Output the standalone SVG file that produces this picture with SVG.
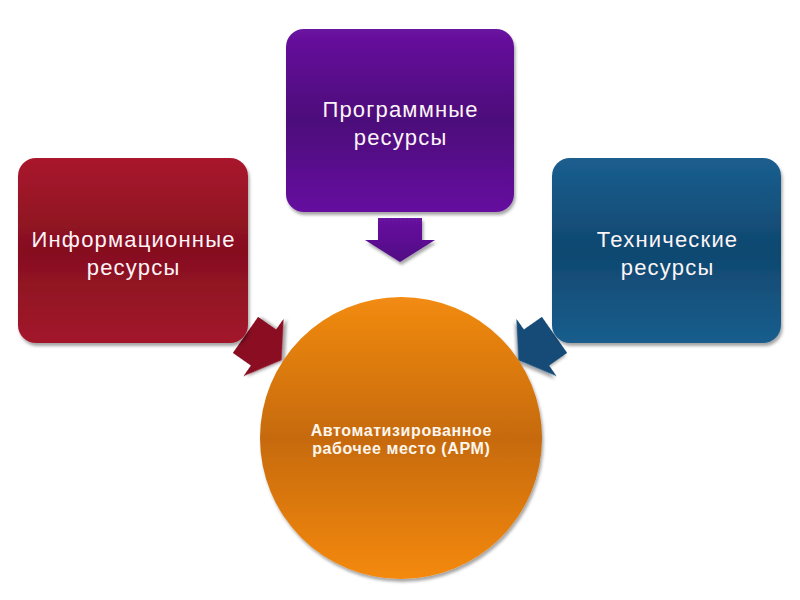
<svg xmlns="http://www.w3.org/2000/svg" width="800" height="600" viewBox="0 0 800 600">
  <defs>
    <linearGradient id="gRed" x1="0" y1="0" x2="0" y2="1">
      <stop offset="0" stop-color="#a9182d"/>
      <stop offset="0.5" stop-color="#86101f"/>
      <stop offset="1" stop-color="#a3162b"/>
    </linearGradient>
    <linearGradient id="gPurple" x1="0" y1="0" x2="0" y2="1">
      <stop offset="0" stop-color="#6912a0"/>
      <stop offset="0.5" stop-color="#4c0a7a"/>
      <stop offset="1" stop-color="#6611a0"/>
    </linearGradient>
    <linearGradient id="gBlue" x1="0" y1="0" x2="0" y2="1">
      <stop offset="0" stop-color="#1b5e8f"/>
      <stop offset="0.5" stop-color="#0f4870"/>
      <stop offset="1" stop-color="#1a5d8d"/>
    </linearGradient>
    <linearGradient id="gOrange" x1="0" y1="0" x2="0" y2="1">
      <stop offset="0" stop-color="#f28b12"/>
      <stop offset="0.5" stop-color="#c66a0b"/>
      <stop offset="1" stop-color="#f4890c"/>
    </linearGradient>
    <linearGradient id="gArrP" x1="0" y1="0" x2="0" y2="1">
      <stop offset="0" stop-color="#6712a0"/>
      <stop offset="1" stop-color="#520b84"/>
    </linearGradient>
    <filter id="sh" x="-10%" y="-10%" width="130%" height="130%">
      <feDropShadow dx="1.5" dy="3" stdDeviation="1.5" flood-color="#000" flood-opacity="0.35"/>
    </filter>
    <polygon id="arrow" points="378,218 422,218 422,240 435,240 400,262 365,240 378,240"/>
  </defs>
  <style>
    .box { filter: url(#sh); }
    .lbl { font-family: "Liberation Sans", Arial, sans-serif; font-size: 22px; letter-spacing: 1.2px; fill: #fdf4f6; text-anchor: middle; }
    .ctr { font-family: "Liberation Sans", Arial, sans-serif; font-size: 16px; letter-spacing: 0.6px; font-weight: bold; fill: #fdf6ee; text-anchor: middle; }
  </style>
  <rect width="800" height="600" fill="#ffffff"/>

  <g id="connectors">
    <use href="#arrow" fill="url(#gArrP)" filter="url(#sh)"/>
    <use href="#arrow" fill="#8a1022" filter="url(#sh)" transform="translate(263.5,347.5) rotate(-55) translate(-400,-240)"/>
    <use href="#arrow" fill="#124c78" filter="url(#sh)" transform="translate(536.5,347.5) rotate(55) translate(-400,-240)"/>
  </g>

  <g id="node-info">
    <rect class="box" x="18" y="158" width="230" height="185" rx="18" fill="url(#gRed)"/>
    <text class="lbl" x="133.6" y="247">Информационные</text>
    <text class="lbl" x="133.6" y="275">ресурсы</text>
  </g>

  <g id="node-soft">
    <rect class="box" x="286" y="29" width="228" height="183" rx="18" fill="url(#gPurple)"/>
    <text class="lbl" x="400.6" y="117">Программные</text>
    <text class="lbl" x="400.6" y="145">ресурсы</text>
  </g>

  <g id="node-tech">
    <rect class="box" x="552" y="158" width="229" height="185" rx="18" fill="url(#gBlue)"/>
    <text class="lbl" x="667.6" y="247">Технические</text>
    <text class="lbl" x="667.6" y="275">ресурсы</text>
  </g>

  <g id="node-arm">
    <circle class="box" cx="401" cy="438" r="141" fill="url(#gOrange)"/>
    <text class="ctr" x="401.3" y="436">Автоматизированное</text>
    <text class="ctr" x="401.3" y="454">рабочее место (АРМ)</text>
  </g>
</svg>
